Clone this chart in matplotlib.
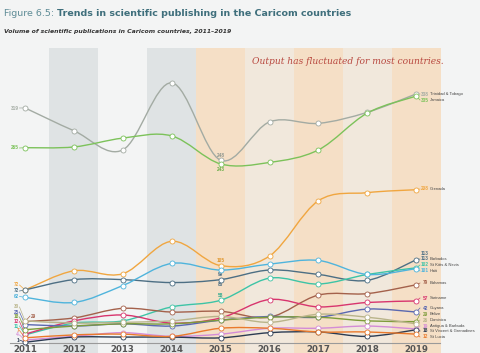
import matplotlib
matplotlib.use("Agg")
import matplotlib.pyplot as plt
from matplotlib.path import Path
from matplotlib.patches import PathPatch
import numpy as np

years = [2011, 2012, 2013, 2014, 2015, 2016, 2017, 2018, 2019]

trinidad = [319, 288, 262, 353, 248, 300, 298, 313, 338]
jamaica = [265, 266, 278, 281, 243, 245, 262, 312, 335]
grenada = [72, 98, 94, 138, 105, 118, 193, 204, 208]
barbados = [72, 86, 86, 82, 86, 99, 93, 85, 113]
haiti = [62, 55, 78, 108, 99, 107, 112, 93, 101]
st_kitts = [11, 27, 30, 49, 58, 88, 80, 93, 102]
bahamas = [29, 34, 47, 42, 43, 35, 65, 67, 79]
suriname = [12, 30, 38, 27, 34, 59, 49, 55, 57]
guyana = [25, 23, 26, 23, 31, 36, 35, 46, 42]
belize = [18, 23, 26, 26, 31, 35, 35, 30, 29]
dominica = [30, 27, 28, 30, 36, 28, 39, 35, 26]
antigua = [4, 9, 14, 9, 12, 20, 20, 23, 19]
st_vincent = [1, 8, 8, 8, 7, 14, 15, 9, 18]
st_lucia = [7, 11, 12, 9, 20, 20, 15, 15, 12]

names = ["Trinidad & Tobago", "Jamaica", "Grenada", "Barbados", "St Kitts & Nevis", "Haiti",
         "Bahamas", "Suriname", "Guyana", "Belize", "Dominica", "Antigua & Barbuda",
         "St Vincent & Grenadines", "St Lucia"]
series = [trinidad, jamaica, grenada, barbados, st_kitts, haiti, bahamas, suriname, guyana,
          belize, dominica, antigua, st_vincent, st_lucia]
colors = ["#a3aba3", "#7cc25a", "#f0a640", "#4d6f84", "#3dc4a6", "#4fb4dc", "#a4614b",
          "#d8356e", "#5a68b0", "#7e9c3a", "#b9b48a", "#d48cd6", "#2b3b52", "#ea7a2c"]

# pixel geometry helpers (figure is 480x353 px, axes fill the figure)
PX_X0, PX_DX = 25.0, 48.9
PX_Y0, PX_DY = 343.0, 0.737
def xpx(px):
    return 2011 + (px - PX_X0) / PX_DX
def ypx(py):
    return (PX_Y0 - py) / PX_DY

fig = plt.figure(figsize=(4.8, 3.53), dpi=100)
fig.patch.set_facecolor("#f3f4f4")
ax = fig.add_axes([0, 0, 1, 1])
ax.set_xlim(xpx(0), xpx(480))
ax.set_ylim(ypx(353), ypx(0))
ax.axis("off")

# year bands
band_cols = {2012: "#dfe3e4", 2014: "#dfe3e4", 2015: "#f5dfc6", 2016: "#f1e8dc",
             2017: "#f5dfc6", 2018: "#f1e8dc", 2019: "#f5dfc6"}
for yr, c in band_cols.items():
    ax.fill_between([yr - 0.5, yr + 0.5], ypx(353), ypx(48), color=c, lw=0, zorder=0)

# baseline
ax.plot([xpx(10), xpx(440)], [ypx(342.5), ypx(342.5)], color="#9a9a9a", lw=0.8, zorder=1)

def smooth_path(xs, ys):
    pts = np.column_stack([xs, ys]).astype(float)
    n = len(pts)
    verts = [pts[0]]
    codes = [Path.MOVETO]
    for i in range(n - 1):
        p0 = pts[i - 1] if i > 0 else pts[i]
        p1 = pts[i]
        p2 = pts[i + 1]
        p3 = pts[i + 2] if i + 2 < n else pts[i + 1]
        c1 = p1 + (p2 - p0) / 6.0
        c2 = p2 - (p3 - p1) / 6.0
        verts += [c1, c2, p2]
        codes += [Path.CURVE4] * 3
    return Path(verts, codes)

for vals, c in zip(series, colors):
    ax.add_patch(PathPatch(smooth_path(years, vals), fc="none", ec=c, lw=1.0, zorder=3))
    ax.scatter(years, vals, s=13, facecolor="white", edgecolor=c, linewidths=0.6, zorder=4)

# x tick labels
for yr in years:
    ax.text(yr, ypx(350), str(yr), ha="center", va="center", fontsize=6.2,
            color="#555555", fontweight="bold")

# right-hand labels
LAB_FS = 3.4
NAME_FS = 3.0
LAB_FAM = "Liberation Sans"
right_py = [94, 100, 189, 259, 265, 271, 283, 298, 308, 314, 320, 326, 331, 337]
for vals, c, nm, py in zip(series, colors, names, right_py):
    ax.plot([2019, xpx(420)], [vals[-1], ypx(py)], color=c, lw=0.5, zorder=2)
    ax.text(xpx(428.5), ypx(py), str(vals[-1]), ha="right", va="center", fontsize=LAB_FS,
            family=LAB_FAM, color=c, fontweight="bold")
    ax.text(xpx(429.5), ypx(py), nm, ha="left", va="center", fontsize=NAME_FS, family=LAB_FAM,
            color="#444444")
ax.text(xpx(428.5), ypx(253.5), str(barbados[-1]), ha="right", va="center", fontsize=LAB_FS,
        family=LAB_FAM, color="#4d6f84", fontweight="bold")

# left-hand labels (2011)
left_py = {0: 108, 1: 148, 2: 285, 3: 291, 5: 296.5, 10: 307, 8: 312, 9: 317, 7: 321.5,
           4: 326, 13: 330.5, 11: 335, 12: 340}
for idx, py in left_py.items():
    vals = series[idx]
    c = colors[idx]
    ax.plot([xpx(19.5), 2011], [ypx(py), vals[0]], color=c, lw=0.5, zorder=2)
    ax.text(xpx(19), ypx(py), str(vals[0]), ha="right", va="center", fontsize=LAB_FS,
            family=LAB_FAM, color=c, fontweight="bold")
ax.plot([2011, xpx(30)], [bahamas[0], ypx(316)], color=colors[6], lw=0.5, zorder=2)
ax.text(xpx(30.5), ypx(316), str(bahamas[0]), ha="left", va="center", fontsize=LAB_FS,
        family=LAB_FAM, color=colors[6], fontweight="bold")

# 2015 value labels
for vals, off, c in [(trinidad, 7, "#8f978f"), (jamaica, -7, "#6aae48"), (grenada, 7, "#e0962c"),
                     (st_kitts, 7, "#2aa88c"), (barbados, -7, "#4d6f84")]:
    ax.text(2015, vals[4] + off, str(vals[4]), ha="center", va="center", fontsize=LAB_FS,
            family=LAB_FAM, fontweight="bold", color=c)
ax.text(2015, (haiti[4] + barbados[4]) / 2 + 1, str(haiti[4]), ha="center", va="center",
        fontsize=LAB_FS, family=LAB_FAM, fontweight="bold", color="#4d6f84")

# annotation
ax.text(xpx(348), ypx(62), "Output has fluctuated for most countries.", ha="center", va="center",
        fontsize=6.6, style="italic", family="DejaVu Serif", color="#b8483f")

# titles
t1 = fig.text(4 / 480, 1 - 13 / 353, "Figure 6.5: ", ha="left", va="center", fontsize=6.8,
              color="#5e8c96")
ax.annotate("Trends in scientific publishing in the Caricom countries", xy=(1, 0.5),
            xycoords=t1, ha="left", va="center", fontsize=6.8, fontweight="bold",
            color="#3f6f7c")
fig.text(4 / 480, 1 - 31 / 353, "Volume of scientific publications in Caricom countries, 2011\u20132019",
         ha="left", va="center", fontsize=4.4, fontweight="bold", style="italic", color="#333333")

fig.savefig("out.png", dpi=100, facecolor=fig.get_facecolor())
